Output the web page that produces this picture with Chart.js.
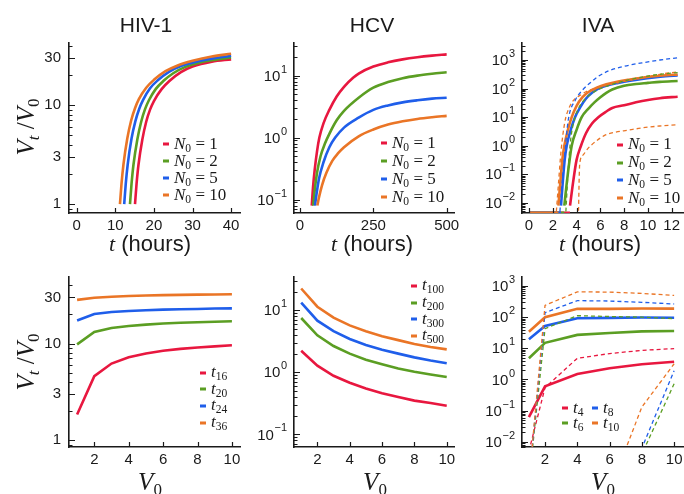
<!DOCTYPE html>
<html>
<head>
<meta charset="utf-8">
<title>Viral growth panels</title>
<script src="https://cdn.jsdelivr.net/npm/chart.js@4.4.1/dist/chart.umd.min.js"></script>
<style>
  html, body { margin: 0; padding: 0; background: #fff; }
  #stage { position: relative; width: 684px; height: 494px; overflow: hidden;
           font-family: 'Liberation Sans', Arial, sans-serif; color: #1a1a1a; }
  #stage canvas { position: absolute; }
  .lbl { position: absolute; white-space: nowrap; line-height: 1; transform: translate(-50%, -50%); }
  .title { font-size: 21px; }
  .xt { font-size: 22px; }
  .math, .math-i { font-family: 'Liberation Serif', 'DejaVu Serif', serif; }
  .big { font-size: 25px; }
  .rot { transform: translate(-50%, -50%) rotate(-90deg); }
  sub { font-size: 0.68em; vertical-align: -0.3em; line-height: 0; }
  .leg { position: absolute; white-space: nowrap; line-height: 1; transform: translateY(-50%);
         font-family: 'Liberation Serif', 'DejaVu Serif', serif; font-size: 17px; }
  .leg .mk { display: inline-block; width: 6px; height: 3px; margin-right: 5px; vertical-align: middle; }
</style>
</head>
<body>
<div id="stage"></div>
<script>
'use strict';

/* ============================================================
   Data
   ============================================================ */

// top row: V_t/V_0 against time, one curve per N_0
const n0Values = ['1', '2', '5', '10'];

const hivTimes = [
  [15.1, 15.5, 16, 17, 18, 19, 20, 22, 24, 27, 30, 35, 40],
  [13.8, 14.2, 14.7, 15.7, 16.7, 17.7, 18.7, 20.5, 22.5, 25, 28, 32, 36, 40],
  [12.3, 12.7, 13.2, 14.2, 15.2, 16.2, 17.2, 19, 21, 24, 27, 31, 35, 40],
  [11.2, 11.6, 12.1, 13.1, 14.1, 15.1, 16.1, 18, 20, 23, 26, 30, 35, 40],
];
const hivRatio = [
  [1, 1.6, 2.5, 4.5, 6.8, 9, 11, 14.5, 17.5, 21.5, 24.5, 27.5, 29],
  [1, 1.6, 2.5, 4.5, 6.8, 9.1, 11.2, 14.6, 17.6, 21, 24.2, 27, 28.8, 30.3],
  [1, 1.6, 2.5, 4.6, 6.9, 9.2, 11.3, 14.8, 17.8, 21.8, 24.8, 27.5, 29.5, 31.5],
  [1, 1.6, 2.5, 4.6, 7, 9.3, 11.5, 15, 18, 22, 25, 28, 31, 33],
];

const hcvTimes = [
  [40, 44, 50, 58, 66, 80, 100, 125, 150, 182, 200, 250, 300, 350, 400, 450, 500],
  [45, 50, 58, 70, 85, 100, 125, 150, 200, 250, 300, 350, 400, 450, 500],
  [51, 56, 65, 80, 100, 120, 150, 200, 250, 300, 350, 400, 450, 500],
  [59, 65, 75, 90, 110, 130, 150, 200, 250, 300, 350, 400, 450, 500],
];
const hcvRatio = [
  [0.08, 0.15, 0.3, 0.6, 1.0, 1.7, 2.8, 4.6, 6.6, 9.3, 10.8, 14, 16.4, 18.3, 19.8, 21, 22],
  [0.08, 0.14, 0.27, 0.5, 0.8, 1.15, 1.9, 2.7, 4.4, 6.4, 7.9, 9.1, 10, 10.7, 11.3],
  [0.08, 0.12, 0.22, 0.4, 0.7, 1.0, 1.45, 2.1, 2.8, 3.3, 3.7, 4.0, 4.25, 4.4],
  [0.08, 0.11, 0.17, 0.27, 0.42, 0.56, 0.7, 1.05, 1.35, 1.62, 1.83, 2.0, 2.13, 2.24],
];

const ivaTimes = [
  [3.45, 3.7, 4.0, 4.37, 4.8, 5.3, 5.83, 6.5, 7, 8, 9, 10, 11, 12.5],
  [2.97, 3.15, 3.35, 3.59, 4.0, 4.43, 5, 5.5, 6, 6.5, 7, 8, 9, 10, 11, 12.5],
  [2.69, 2.85, 3.0, 3.17, 3.5, 3.87, 4.3, 4.8, 5.3, 5.83, 6.5, 7.5, 8.5, 9.5, 10.5, 11.5, 12.5],
  [2.47, 2.65, 2.8, 2.97, 3.3, 3.59, 4.0, 4.5, 5.0, 5.69, 6.5, 7.5, 8.5, 9.5, 10.5, 11.5, 12.5],
];
const ivaRatio = [
  [0.008, 0.05, 0.32, 1.0, 2.8, 6, 10, 15.8, 21, 26, 33, 40, 46, 52],
  [0.008, 0.04, 0.2, 1.0, 3.6, 10, 20, 33, 50, 71, 93, 126, 145, 158, 172, 184],
  [0.008, 0.063, 0.32, 1.0, 3.5, 10, 22, 45, 71, 100, 126, 158, 190, 219, 245, 269, 288],
  [0.008, 0.063, 0.32, 1.0, 4.0, 10, 25, 50, 76, 107, 141, 178, 209, 240, 269, 292, 309],
];
const ivaFloor = 0.0045;   // curves that are still at zero sit on the axis

// dashed bounds for IVA (series index says which N_0 each belongs to)
const ivaBandOf = [3, 1, 2, 3];
const ivaBandTimes = [
  [2.3, 2.5, 2.69, 3.0, 3.45, 4.43, 5.83, 7.8, 9.5, 11, 12.5],
  [3.1, 3.3, 3.5, 3.8, 4.2, 5, 6, 7, 8, 9.5, 11, 12.5],
  [2.6, 2.8, 3.0, 3.3, 3.9, 4.5, 5.0, 5.8, 6.7, 8, 9.5, 11, 12.5],
  [4.15, 4.26, 4.5, 4.96, 5.6, 6.36, 7.3, 8.32, 9.5, 10.98, 12.5],
];
const ivaBandRatio = [
  [0.005, 0.063, 0.63, 6.3, 25, 63, 110, 170, 240, 316, 385],
  [0.005, 0.16, 1.6, 7.9, 22, 56, 100, 141, 186, 251, 316, 363],
  [0.005, 0.063, 0.5, 7.9, 40, 89, 141, 263, 417, 603, 794, 1000, 1200],
  [0.003, 0.22, 0.45, 0.81, 1.4, 2.3, 3.0, 3.5, 4.2, 4.9, 5.4],
];

// bottom row: V_t/V_0 against V_0, one line per time point
const v0Steps = [1, 2, 3, 4, 5, 6, 7, 8, 9, 10];

const hivTimePoints = ['16', '20', '24', '36'];
const hivByV0 = [
  [1.84, 4.6, 6.2, 7.2, 7.9, 8.4, 8.8, 9.1, 9.35, 9.6],
  [9.8, 13.2, 14.5, 15.2, 15.7, 16.1, 16.4, 16.6, 16.8, 17.0],
  [17.3, 20.2, 21.2, 21.7, 22.1, 22.4, 22.6, 22.8, 23.0, 23.1],
  [28.3, 29.8, 30.5, 31.0, 31.4, 31.7, 31.9, 32.1, 32.2, 32.3],
];

const hcvTimePoints = ['100', '200', '300', '500'];
const hcvByV0 = [
  [2.23, 1.28, 0.88, 0.68, 0.55, 0.46, 0.40, 0.35, 0.32, 0.29],
  [7.5, 3.95, 2.65, 2.0, 1.6, 1.35, 1.15, 1.02, 0.92, 0.84],
  [13.3, 6.8, 4.6, 3.45, 2.75, 2.3, 2.0, 1.74, 1.55, 1.40],
  [22.4, 11.4, 7.6, 5.7, 4.6, 3.8, 3.3, 2.85, 2.55, 2.34],
];

const ivaTimePoints = ['4', '6', '8', '10'];
const ivaV0Steps = [1, 2, 4, 6, 8, 10];
const ivaByV0 = [
  [0.062, 0.6, 1.5, 2.3, 3.1, 3.7],
  [4.8, 15, 27, 31, 35, 36],
  [19.5, 52, 92, 95, 98, 96],
  [34, 100, 185, 185, 190, 188],
];
const ivaByV0Hi = [
  [0.005, 0.55, 4.8, 6.8, 8.6, 9.8],
  [0.0005, 43, 112, 105, 100, 90],
  [0.0005, 140, 340, 330, 300, 265],
  [0.0005, 240, 650, 640, 580, 500],
];
const ivaLoSteps = [6, 8, 10];
const ivaByV0Lo = [
  null,
  [0.0001, 0.004, 0.73],
  [0.0001, 0.0063, 1.9],
  [0.00027, 0.13, 3.2],
];

// tick values and labels ("^" marks an exponent)
const hivTTicks = [0, 10, 20, 30, 40];
const hcvTTicks = [0, 250, 500];
const ivaTTicks = [0, 2, 4, 6, 8, 10, 12];
const v0Ticks = [2, 4, 6, 8, 10];
const ratioTicks = [1, 3, 10, 30];
const ratioLabels = ['1', '3', '10', '30'];
const decadeTicks = [0.01, 0.1, 1, 10, 100, 1000];
const decadeLabels = ['10^\u22122', '10^\u22121', '10^0', '10^1', '10^2', '10^3'];

/* ============================================================
   Styling
   ============================================================ */
const COLORS = ['#E8173F', '#5B9E23', '#1F5EEA', '#EA7526'];
const INK = '#1a1a1a';
const FAMILY = "'Liberation Sans', Arial, sans-serif";
const TICK_FONT = { family: FAMILY, size: 15 };
const PAD = { l: 52, t: 14, r: 14, b: 30 };

const stage = document.getElementById('stage');

/* ─── inward tick marks + power-of-ten labels ───────────── */
const inTicks = {
  id: 'inTicks',
  afterDraw(chart) {
    const { ctx, chartArea: a, scales: { x, y } } = chart;
    ctx.save();
    ctx.strokeStyle = INK;
    ctx.lineWidth = 1.2;
    ctx.beginPath();
    x.ticks.forEach(t => {
      const px = Math.round(x.getPixelForValue(t.value)) + 0.5;
      ctx.moveTo(px, a.bottom);
      ctx.lineTo(px, a.bottom - 5);
    });
    y.ticks.forEach(t => {
      const py = Math.round(y.getPixelForValue(t.value)) + 0.5;
      ctx.moveTo(a.left, py);
      ctx.lineTo(a.left + (t.isMajor ? 6 : 3.5), py);
    });
    ctx.stroke();

    // exponent labels: Chart.js lays them out, we set the superscript
    ctx.fillStyle = INK;
    ctx.textBaseline = 'middle';
    y.ticks.forEach(t => {
      if (typeof t.label !== 'string' || !t.label.includes('^')) return;
      const [base, exp] = t.label.split('^');
      const py = y.getPixelForValue(t.value);
      const right = a.left - 7;
      ctx.font = `11px ${FAMILY}`;
      const ew = ctx.measureText(exp).width;
      ctx.textAlign = 'right';
      ctx.fillText(exp, right, py - 6);
      ctx.font = `15px ${FAMILY}`;
      ctx.fillText(base, right - ew - 0.5, py + 1);
    });
    ctx.restore();
  },
};

// minor ticks on a log axis: 1..9 of every decade inside the range
function logTicks(min, max, majors) {
  const out = [];
  for (let e = Math.floor(Math.log10(min)); e <= Math.ceil(Math.log10(max)); e++) {
    for (let m = 1; m <= 9; m++) {
      const v = +(m * Math.pow(10, e)).toPrecision(6);
      if (v >= min && v <= max) out.push({ value: v, isMajor: majors.includes(v) });
    }
  }
  return out;
}

function makeChart(p, datasets) {
  const [l, t, r, b] = p.area;
  const w = r - l + PAD.l + PAD.r;
  const h = b - t + PAD.t + PAD.b;
  const cv = document.createElement('canvas');
  cv.width = w; cv.height = h;
  cv.style.left = (l - PAD.l) + 'px';
  cv.style.top = (t - PAD.t) + 'px';
  cv.style.width = w + 'px';
  cv.style.height = h + 'px';
  stage.appendChild(cv);

  datasets.forEach((ds, i) => { ds.order = -i; });
  const powers = p.yLabels.some(s => s.includes('^'));

  return new Chart(cv.getContext('2d'), {
    type: 'line',
    data: { datasets },
    options: {
      responsive: false,
      animation: false,
      devicePixelRatio: 1,
      events: [],
      layout: { padding: { left: 0, top: PAD.t, right: PAD.r, bottom: 0 } },
      plugins: { legend: { display: false }, tooltip: { enabled: false } },
      scales: {
        x: {
          type: 'linear',
          min: p.x[0], max: p.x[1],
          afterFit: s => { s.height = PAD.b; },
          afterBuildTicks: s => { s.ticks = p.xTicks.map(v => ({ value: v, isMajor: true })); },
          grid: { display: false, drawTicks: false },
          border: { display: true, color: INK, width: 1.6 },
          ticks: { font: TICK_FONT, color: INK, padding: 4, autoSkip: false, maxRotation: 0,
                   callback: v => String(v) },
        },
        y: {
          type: 'logarithmic',
          min: p.y[0], max: p.y[1],
          afterFit: s => { s.width = PAD.l; },
          afterBuildTicks: s => { s.ticks = logTicks(p.y[0], p.y[1], p.yTicks); },
          grid: { display: false, drawTicks: false },
          border: { display: true, color: INK, width: 1.6 },
          ticks: { font: TICK_FONT, color: powers ? 'rgba(0,0,0,0)' : INK, padding: 8, autoSkip: false,
                   callback: v => {
                     const k = p.yTicks.indexOf(v);
                     return k < 0 ? '' : p.yLabels[k];
                   } },
        },
      },
    },
    plugins: [inTicks],
  });
}

function line(xs, ys, color, extra = {}) {
  return {
    data: xs.map((x, i) => ({ x, y: ys[i] })),
    borderColor: color,
    borderWidth: 2.6,
    pointRadius: 0,
    fill: false,
    tension: 0,
    ...extra,
  };
}
const SMOOTH = { cubicInterpolationMode: 'monotone' };
const DASH = { borderWidth: 1.3, borderDash: [4, 3] };

/* ─── panels ───────────────────────────────────────────── */
const PANELS = {
  hivT: { area: [69, 40, 240, 213], x: [-2, 42.3], y: [0.814, 42.4], xTicks: hivTTicks, yTicks: ratioTicks, yLabels: ratioLabels },
  hcvT: { area: [294, 40, 454, 213], x: [-20.5, 525], y: [0.0607, 33.6], xTicks: hcvTTicks, yTicks: decadeTicks, yLabels: decadeLabels },
  ivaT: { area: [522, 40, 683, 213], x: [-0.59, 12.95], y: [0.00443, 3935], xTicks: ivaTTicks, yTicks: decadeTicks, yLabels: decadeLabels },
  hivV: { area: [69, 274, 240, 447], x: [0.529, 10.47], y: [0.849, 48.8], xTicks: v0Ticks, yTicks: ratioTicks, yLabels: ratioLabels },
  hcvV: { area: [294, 274, 454, 447], x: [0.555, 10.45], y: [0.0627, 34.3], xTicks: v0Ticks, yTicks: decadeTicks, yLabels: decadeLabels },
  ivaV: { area: [522, 274, 683, 447], x: [0.572, 10.55], y: [0.00681, 1950], xTicks: v0Ticks, yTicks: decadeTicks, yLabels: decadeLabels },
};

makeChart(PANELS.hivT, hivTimes.map((ts, i) => line(ts, hivRatio[i], COLORS[i], SMOOTH)));
makeChart(PANELS.hcvT, hcvTimes.map((ts, i) => line(ts, hcvRatio[i], COLORS[i], SMOOTH)));

makeChart(PANELS.ivaT, [
  ...ivaTimes.map((ts, i) => line([0, ts[0]], [ivaFloor, ivaFloor], COLORS[i])),
  ...ivaTimes.map((ts, i) => line(ts, ivaRatio[i], COLORS[i], SMOOTH)),
  ...ivaBandTimes.map((ts, k) => line(ts, ivaBandRatio[k], COLORS[ivaBandOf[k]], { ...SMOOTH, ...DASH })),
]);

makeChart(PANELS.hivV, hivByV0.map((vs, i) => line(v0Steps, vs, COLORS[i])));
makeChart(PANELS.hcvV, hcvByV0.map((vs, i) => line(v0Steps, vs, COLORS[i])));

makeChart(PANELS.ivaV, [
  ...ivaByV0.map((vs, i) => line(ivaV0Steps, vs, COLORS[i])),
  ...ivaByV0Hi.map((vs, i) => line(ivaV0Steps, vs, COLORS[i], DASH)),
  ...ivaByV0Lo.filter(Boolean).map((vs, k) => line(ivaLoSteps, vs, COLORS[k + 1], DASH)),
]);

/* ─── text around the plots ────────────────────────────── */
function text(html, x, y, cls) {
  const d = document.createElement('div');
  d.className = 'lbl ' + cls;
  d.style.left = x + 'px';
  d.style.top = y + 'px';
  d.innerHTML = html;
  stage.appendChild(d);
}

const RATIO_HTML = '<i>V</i><sub><i>t</i></sub> /<i>V</i><sub>0</sub>';
const TIME_HTML = '<i class="math">t</i> (hours)';
const V0_HTML = '<i>V</i><sub>0</sub>';

text('HIV-1', 146, 24, 'title');
text('HCV', 372, 24, 'title');
text('IVA', 598, 24, 'title');
[150, 372, 600].forEach(x => text(TIME_HTML, x, 244, 'xt'));
[150, 375, 603].forEach(x => text(V0_HTML, x, 481, 'math big'));
text(RATIO_HTML, 25, 127, 'math big rot');
text(RATIO_HTML, 25, 362, 'math big rot');

function legend(labels, color, at) {
  labels.forEach((html, i) => {
    const [x, y] = at(i);
    const d = document.createElement('div');
    d.className = 'leg';
    d.style.left = x + 'px';
    d.style.top = y + 'px';
    d.innerHTML = `<span class="mk" style="background:${color(i)}"></span>${html}`;
    stage.appendChild(d);
  });
}
const n0Html = n0Values.map(n => `<i>N</i><sub>0</sub> = ${n}`);
const tHtml = pts => pts.map(s => `<i>t</i><sub>${s}</sub>`);
const col = i => COLORS[i];

legend(n0Html, col, i => [163, 142.7 + i * 17]);
legend(n0Html, col, i => [381, 141.7 + i * 18]);
legend(n0Html, col, i => [617, 143.3 + i * 17.8]);
legend(tHtml(hivTimePoints), col, i => [200, 371 + i * 16.7]);
legend(tHtml(hcvTimePoints), col, i => [411, 284.3 + i * 16.7]);
legend(tHtml(ivaTimePoints), col, i => [[562, 592][i >> 1], [406.7, 421.7][i & 1]]);
</script>
</body>
</html>
